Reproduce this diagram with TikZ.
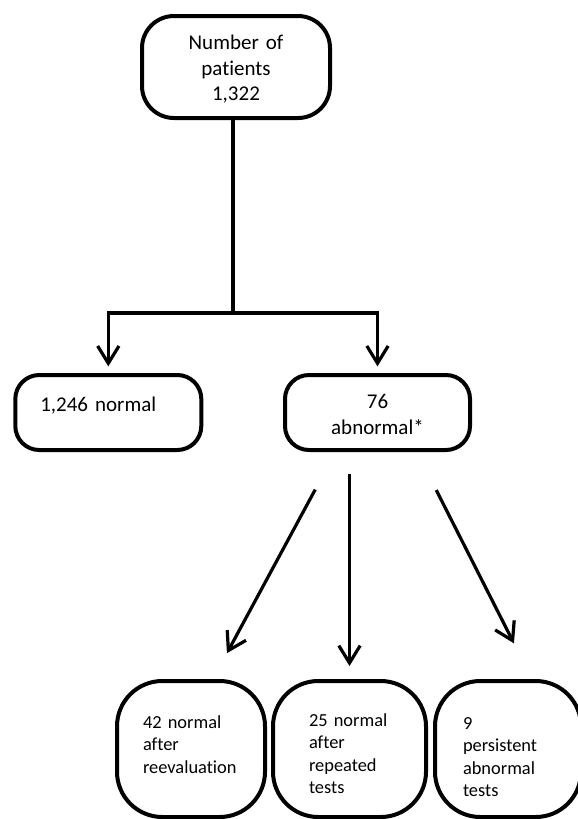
\documentclass[tikz,border=0pt]{standalone}
\usepackage{fontspec}
\setmainfont{Carlito}[Ligatures=NoCommon]
\usetikzlibrary{arrows.meta}
\newcommand{\mainsize}{\fontsize{15.75pt}{19.3pt}\selectfont}
\newcommand{\smallsize}{\fontsize{13.8pt}{16.9pt}\selectfont}
\tikzset{
  top_box/.style={draw=black,line width=3pt,rounded corners=24pt,inner sep=0pt,
    minimum width=141pt,text width=141pt,text height=25.1pt,text depth=51.4pt,
    font=\mainsize,align=center},
  mid_box/.style={draw=black,line width=3pt,rounded corners=18pt,inner sep=0pt,
    font=\mainsize},
  end_box/.style={draw=black,line width=3pt,rounded corners=34pt,inner sep=0pt,
    font=\smallsize,align=left},
  link/.style={draw=black,line width=2.4pt},
  arr/.style={-{Straight Barb[length=13pt,width=16pt]},draw=black,line width=2.4pt},
}
\begin{document}
\begin{tikzpicture}[x=0.75pt,y=-0.75pt]
  \useasboundingbox (0,0) rectangle (578,819);
  \clip (0,0) rectangle (578,819);

  \node[top_box] (total) at (236,67) {Number of\\patients\\1,322};
  \node[mid_box,minimum width=139.5pt,text width=102pt,text height=27pt,text depth=29.25pt,align=left] (normal) at (108.3,412.5) {1,246 normal};
  \node[mid_box,minimum width=138.75pt,text width=138.75pt,text height=25.2pt,text depth=31.05pt,align=center] (abn) at (377.5,412.5) {76\\abnormal*};
  \node[end_box,minimum width=111pt,text width=72pt,text height=35.25pt,text depth=66.75pt] (reeval) at (191,749) {42 normal\\after\\reevaluation};
  \node[end_box,minimum width=114.75pt,text width=60.75pt,text height=33.75pt,text depth=68.25pt] (repeat) at (349.5,749) {25 normal\\after\\repeated\\tests};
  \node[end_box,minimum width=109.5pt,text width=67.5pt,text height=36pt,text depth=66pt] (persist) at (508,749) {9\\persistent\\abnormal\\tests};
  \coordinate (split) at (233,313);

  \draw[link] (total.south -| split) -- (split);
  \draw[arr,shorten >=5pt] (split) -| (normal);
  \draw[arr,shorten >=5pt] (split) -| (abn);

  \draw[arr,shorten <=32pt,shorten >=22pt] ([xshift=-31.5pt]abn.south) -- ([xshift=16.5pt]reeval.north);
  \draw[arr,shorten <=16.5pt,shorten >=9.75pt] (abn.south -| repeat.north) -- (repeat.north);
  \draw[arr,shorten <=32pt,shorten >=30pt] ([xshift=29.6pt]abn.south) -- ([xshift=18pt]persist.north);
\end{tikzpicture}
\end{document}
